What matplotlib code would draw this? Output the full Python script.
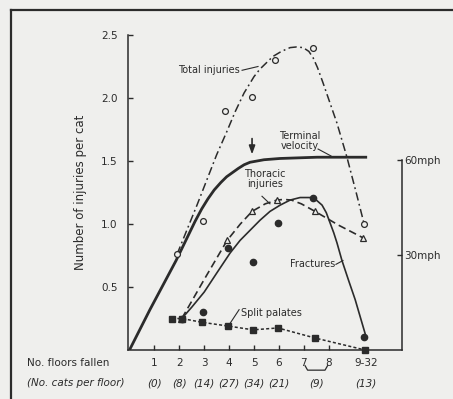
import numpy as np
import matplotlib
matplotlib.use("Agg")
import matplotlib.pyplot as plt
from matplotlib.lines import Line2D

plt.rcParams["font.family"] = ["DejaVu Sans"]
plt.rcParams["lines.scale_dashes"] = False

INK = "#2b2b2b"
BG = "#efefed"

# --- data (x in floors, y in injuries per cat) ---
floor_ticks = [1, 2, 3, 4, 5, 6, 7, 8]
floor_labels = ["1", "2", "3", "4", "5", "6", "7", "8"]
last_floor_x = 9.5
last_floor_label = "9-32"
count_x = [1, 2, 3, 4, 5, 6, 7.5, 9.5]
count_labels = ["(0)", "(8)", "(14)", "(27)", "(34)", "(21)", "(9)", "(13)"]

total_pts_x = [1.91, 2.95, 3.84, 4.92, 5.84, 7.37, 9.42]
total_pts_y = [0.76, 1.02, 1.90, 2.01, 2.30, 2.40, 1.00]
total_curve_x = [1.91, 2.71, 3.50, 3.90, 4.24, 4.60, 5.00, 5.24, 5.76, 6.10, 6.45, 6.70,
                 6.97, 7.20, 7.37, 7.55, 7.77, 8.05, 8.33, 8.73, 9.10, 9.42]
total_curve_y = [0.76, 1.15, 1.55, 1.73, 1.89, 2.04, 2.17, 2.23, 2.33, 2.37, 2.40, 2.405,
                 2.40, 2.37, 2.32, 2.24, 2.12, 1.96, 1.80, 1.53, 1.25, 1.00]

velocity_x = [0.0, 0.82, 1.87, 2.63, 2.90, 3.15, 3.40, 3.67, 3.90, 4.36, 4.60,
              4.84, 5.40, 6.04, 7.53, 9.54]
velocity_y = [0.0, 0.32, 0.71, 1.02, 1.12, 1.20, 1.27, 1.33, 1.375, 1.44, 1.47,
              1.49, 1.51, 1.52, 1.53, 1.53]

thoracic_pts_x = [2.05, 3.92, 4.92, 5.92, 7.45, 9.38]
thoracic_pts_y = [0.25, 0.87, 1.10, 1.19, 1.10, 0.89]
thoracic_curve_x = [2.1, 3.0, 3.92, 4.45, 4.92, 5.45, 5.92, 6.20, 6.50, 6.90, 7.45,
                    8.40, 9.38]
thoracic_curve_y = [0.25, 0.56, 0.87, 1.00, 1.10, 1.16, 1.19, 1.195, 1.19, 1.16, 1.10,
                    0.99, 0.89]

fracture_pts_x = [2.1, 2.95, 3.96, 4.96, 5.96, 7.37, 9.42]
fracture_pts_y = [0.25, 0.30, 0.81, 0.70, 1.01, 1.21, 0.10]
fracture_curve_x = [2.1, 2.5, 3.0, 3.5, 4.04, 4.44, 4.84, 5.24, 5.64, 6.05, 6.45,
                    6.85, 7.25, 7.50, 7.73, 7.90, 8.05, 8.20, 8.33, 8.53, 8.80,
                    9.06, 9.46]
fracture_curve_y = [0.25, 0.34, 0.46, 0.61, 0.77, 0.87, 0.95, 1.03, 1.10, 1.15, 1.19,
                    1.21, 1.21, 1.19, 1.15, 1.09, 1.01, 0.93, 0.85, 0.71, 0.55,
                    0.40, 0.13]

palate_x = [1.71, 2.1, 2.91, 3.96, 4.96, 5.96, 7.45, 9.46]
palate_y = [0.25, 0.25, 0.22, 0.19, 0.16, 0.175, 0.095, 0.0]

mph_ticks = [30, 60]
mph_60_level = 1.51   # injuries-axis height of 60 mph

fig = plt.figure(figsize=(4.53, 3.99), dpi=100, facecolor=BG)
ax = fig.add_axes([127.5 / 453, 49 / 399, (401.5 - 127.5) / 453, 315 / 399])
ax.set_facecolor("none")
ax.set_xlim(-0.08, 10.92)
ax.set_ylim(0, 2.5)

# curves
ax.plot(total_curve_x, total_curve_y, color=INK, lw=1.1, dashes=(6, 2.5, 1.3, 2.5))
ax.plot(velocity_x, velocity_y, color=INK, lw=2.0, solid_capstyle="butt",
        solid_joinstyle="round")
ax.plot(thoracic_curve_x, thoracic_curve_y, color=INK, lw=1.2, dashes=(5.5, 3))
ax.plot(fracture_curve_x, fracture_curve_y, color=INK, lw=1.2, solid_joinstyle="round")
ax.plot(palate_x, palate_y, color=INK, lw=1.1, dashes=(2.2, 1.6))

# points
ax.plot(total_pts_x, total_pts_y, "o", ms=4.2, mfc=BG, mec=INK, mew=0.9, ls="none")
ax.plot(thoracic_pts_x, thoracic_pts_y, "^", ms=5, mfc=BG, mec=INK, mew=0.9, ls="none")
ax.plot(fracture_pts_x, fracture_pts_y, "o", ms=4.5, color=INK, ls="none")
ax.plot(palate_x, palate_y, "s", ms=4.2, color=INK, ls="none", clip_on=False)

# axes styling
for side in ["top", "right"]:
    ax.spines[side].set_visible(False)
for side in ["left", "bottom"]:
    ax.spines[side].set_color(INK)
    ax.spines[side].set_linewidth(1.1)
ax.set_yticks([0.5, 1.0, 1.5, 2.0, 2.5])
ax.set_yticklabels(["0.5", "1.0", "1.5", "2.0", "2.5"])
ax.set_xticks(floor_ticks)
ax.set_xticklabels([])
ax.tick_params(axis="both", direction="in", length=3.5, width=1.0, colors=INK,
               labelsize=7.5, pad=7)
ax.set_ylabel("Number of injuries per cat", fontsize=8.5, color=INK, labelpad=10)

# mph scale on the right
ax2 = ax.twinx()
ax2.set_ylim(ax.get_ylim())
ax2.set_xlim(ax.get_xlim())
for side in ["top", "left", "bottom"]:
    ax2.spines[side].set_visible(False)
ax2.spines["right"].set_bounds(0, mph_60_level)
ax2.spines["right"].set_color(INK)
ax2.spines["right"].set_linewidth(1.1)
ax2.set_yticks([m / 60 * mph_60_level for m in mph_ticks])
ax2.set_yticklabels([f"{m}mph" for m in mph_ticks])
ax2.tick_params(axis="y", direction="in", length=3.5, width=1.0, colors=INK,
                labelsize=7.5, pad=2)

# floor labels under the axis
for x, lab in zip(floor_ticks, floor_labels):
    ax.text(x, -0.103, lab, ha="center", va="center", fontsize=7.5, color=INK, clip_on=False)
ax.text(last_floor_x, -0.103, last_floor_label, ha="center", va="center",
        fontsize=7.5, color=INK, clip_on=False)
ax.text(-4.12, -0.103, "No. floors fallen", ha="left", va="center",
        fontsize=7.5, color=INK, clip_on=False)
ax.plot([7.05, 7.15, 7.85, 7.95], [-0.125, -0.16, -0.16, -0.125], color=INK,
        lw=0.9, clip_on=False)
for x, lab in zip(count_x, count_labels):
    ax.text(x, -0.262, lab, ha="center", va="center", fontsize=7.5, style="italic",
            color=INK, clip_on=False)
ax.text(-4.12, -0.262, "(No. cats per floor)", ha="left", va="center",
        fontsize=7.5, style="italic", color=INK, clip_on=False)

# curve annotations
fs = 7
ax.text(4.44, 2.22, "Total injuries", ha="right", va="center", fontsize=fs, color=INK)
ax.plot([4.52, 5.16], [2.22, 2.25], color=INK, lw=0.8)
ax.text(6.85, 1.655, "Terminal\nvelocity", ha="center", va="center", fontsize=fs,
        color=INK, linespacing=1.0)
ax.plot([7.57, 8.09], [1.595, 1.54], color=INK, lw=0.8)
ax.text(5.45, 1.36, "Thoracic\ninjuries", ha="center", va="center", fontsize=fs,
        color=INK, linespacing=1.0)
ax.plot([5.32, 5.64], [1.22, 1.16], color=INK, lw=0.8)
ax.text(8.25, 0.68, "Fractures", ha="right", va="center", fontsize=fs, color=INK)
ax.plot([8.29, 8.57], [0.68, 0.71], color=INK, lw=0.8)
ax.text(4.46, 0.29, "Split palates", ha="left", va="center", fontsize=fs, color=INK)
ax.plot([4.40, 4.0], [0.32, 0.2], color=INK, lw=0.8)
ax.annotate("", xy=(4.92, 1.53), xytext=(4.92, 1.70),
            arrowprops=dict(arrowstyle="-|>,head_length=0.5,head_width=0.18",
                            color=INK, lw=1.2))

# outer frame (cut off at right and bottom)
fig.add_artist(Line2D([11 / 453, 1.0], [1 - 10 / 399, 1 - 10 / 399],
                      transform=fig.transFigure, color=INK, lw=1.6))
fig.add_artist(Line2D([11 / 453, 11 / 453], [0.0, 1 - 10 / 399],
                      transform=fig.transFigure, color=INK, lw=1.6))

fig.savefig("out.png", dpi=100, facecolor=BG)
